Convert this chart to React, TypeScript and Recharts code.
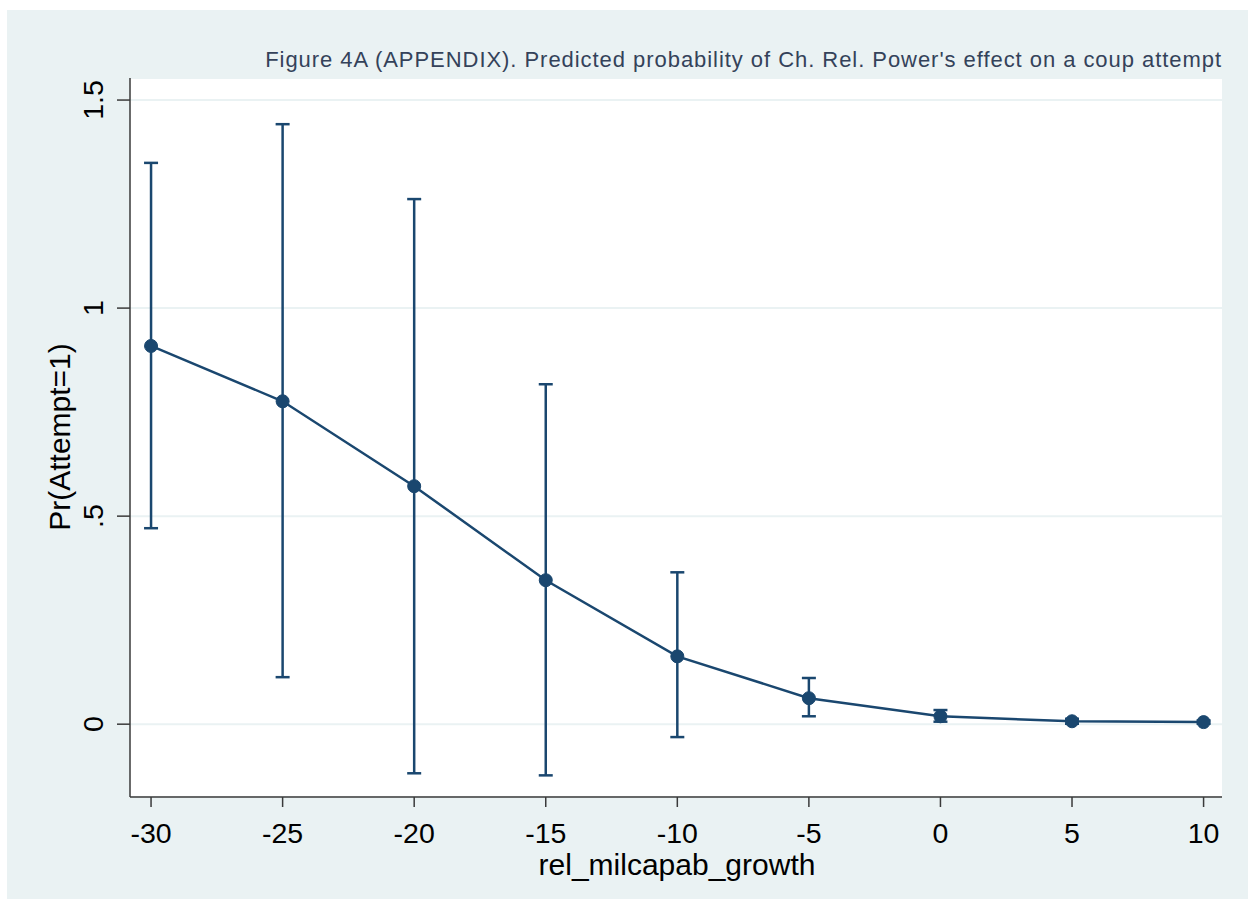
import React from 'react'
import {
  ComposedChart,
  Line,
  ErrorBar,
  XAxis,
  YAxis,
  CartesianGrid,
} from 'recharts'

// values
const growth = [-30, -25, -20, -15, -10, -5, 0, 5, 10]
const predicted = [0.909, 0.776, 0.572, 0.346, 0.163, 0.0625, 0.019, 0.007, 0.005]
const ciLow = [0.471, 0.113, -0.118, -0.123, -0.031, 0.019, 0.006, 0.001, 0.001]
const ciHigh = [1.349, 1.442, 1.262, 0.817, 0.365, 0.111, 0.034, 0.013, 0.009]
const xTicks = [-30, -25, -20, -15, -10, -5, 0, 5, 10]
const yTicks = [0, 0.5, 1, 1.5]
const yTickLabels: Record<string, string> = { '0': '0', '0.5': '.5', '1': '1', '1.5': '1.5' }

const data = growth.map((g, i) => ({
  x: g,
  pr: predicted[i],
  err: [predicted[i] - ciLow[i], ciHigh[i] - predicted[i]],
}))

const NAVY = '#1a476f'
const PANEL = '#eaf2f3'
const AXIS = '#3a3a3a'
const FONT = '"Liberation Sans", Arial, sans-serif'

const XTick = (props: any) => {
  const { x, y, payload } = props
  return (
    <text x={x} y={y + 36} textAnchor="middle" fontSize={28.5} fontFamily={FONT} fill="#000">
      {payload.value}
    </text>
  )
}

const YTick = (props: any) => {
  const { x, y, payload } = props
  return (
    <text
      transform={`translate(${x - 14}, ${y}) rotate(-90)`}
      textAnchor="middle"
      fontSize={28.5}
      fontFamily={FONT}
      fill="#000"
    >
      {yTickLabels[String(payload.value)]}
    </text>
  )
}

export default function App() {
  return (
    <div style={{ position: 'absolute', left: 0, top: 0, width: 1255, height: 909, background: '#fff', fontFamily: FONT }}>
      <div style={{ position: 'absolute', left: 7, top: 10, width: 1241, height: 889, background: PANEL }} />
      <div style={{
        position: 'absolute', right: 1255 - 1222, top: 46, fontSize: 22, letterSpacing: 0.95,
        color: '#34425a', whiteSpace: 'nowrap', lineHeight: '28px',
      }}>
        Figure 4A (APPENDIX). Predicted probability of Ch. Rel. Power's effect on a coup attempt
      </div>
      <div style={{
        position: 'absolute', left: 677, top: 865, fontSize: 30, color: '#000',
        transform: 'translate(-50%, -50%)', whiteSpace: 'nowrap', lineHeight: '28px',
      }}>
        rel_milcapab_growth
      </div>
      <div style={{
        position: 'absolute', left: 60, top: 437, fontSize: 30, color: '#000',
        transform: 'translate(-50%, -50%) rotate(-90deg)', whiteSpace: 'nowrap', lineHeight: '34px',
      }}>
        Pr(Attempt=1)
      </div>
      <div style={{ position: 'absolute', left: 0, top: 0 }}>
        <ComposedChart
          width={1255}
          height={909}
          data={data}
          margin={{ top: 78, right: 33, left: 70, bottom: 52 }}
        >
          <CartesianGrid
            vertical={false}
            stroke={PANEL}
            strokeWidth={2}
            fill="#ffffff"
            fillOpacity={1}
          />
          <XAxis
            dataKey="x"
            type="number"
            domain={[-30.8, 10.7]}
            ticks={xTicks}
            height={60}
            tickSize={10}
            tickMargin={0}
            axisLine={{ stroke: AXIS, strokeWidth: 1.5 }}
            tickLine={{ stroke: AXIS, strokeWidth: 1.5 }}
            tick={<XTick />}
            allowDataOverflow
          />
          <YAxis
            type="number"
            domain={[-0.175, 1.553]}
            ticks={yTicks}
            width={60}
            tickSize={13}
            tickMargin={0}
            axisLine={{ stroke: AXIS, strokeWidth: 1.5 }}
            tickLine={{ stroke: AXIS, strokeWidth: 1.5 }}
            tick={<YTick />}
            allowDataOverflow
          />
          <Line
            dataKey="pr"
            stroke={NAVY}
            strokeWidth={2.5}
            dot={{ r: 6.5, fill: NAVY, stroke: NAVY, strokeWidth: 1 }}
            activeDot={false}
            isAnimationActive={false}
          >
            <ErrorBar
              dataKey="err"
              direction="y"
              width={7}
              stroke={NAVY}
              strokeWidth={2.5}
              isAnimationActive={false}
            />
          </Line>
        </ComposedChart>
      </div>
    </div>
  )
}
